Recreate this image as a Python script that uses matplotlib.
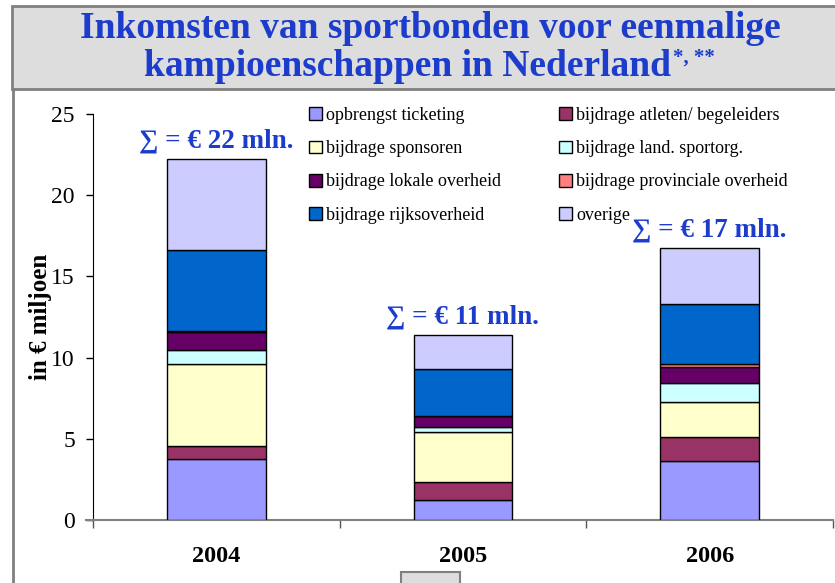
import numpy as np
import matplotlib.pyplot as plt
from matplotlib.patches import Rectangle, Patch
from matplotlib.lines import Line2D

plt.rcParams['font.family'] = ['Liberation Serif', 'DejaVu Serif']

# ── Data ──────────────────────────────────────────────────────────────────────
years = ["2004", "2005", "2006"]
categories = [
    "opbrengst ticketing",
    "bijdrage atleten/ begeleiders",
    "bijdrage sponsoren",
    "bijdrage land. sportorg.",
    "bijdrage lokale overheid",
    "bijdrage provinciale overheid",
    "bijdrage rijksoverheid",
    "overige",
]
ticketing   = [3.77, 1.21, 3.65]
atleten     = [0.78, 1.15, 1.44]
sponsoren   = [5.05, 3.06, 2.15]
land        = [0.86, 0.32, 1.17]
lokaal      = [1.13, 0.64, 1.02]
provinciaal = [0.05, 0.05, 0.15]
rijk        = [5.00, 2.85, 3.71]
overige     = [5.56, 2.11, 3.43]
totals_label = ["22", "11", "17"]

colors = ["#9999FF", "#993366", "#FFFFCC", "#CCFFFF",
          "#660066", "#FF8080", "#0066CC", "#CCCCFF"]
BLUE = "#1C3CCC"

series = [ticketing, atleten, sponsoren, land, lokaal, provinciaal, rijk, overige]

# ── Figure ────────────────────────────────────────────────────────────────────
W, H = 835, 583
fig = plt.figure(figsize=(W / 100, H / 100), dpi=100)

def fx(px):
    return px / W

def fy(py):
    return 1 - py / H

# title box and panel border
fig.patches.append(Rectangle((fx(12), fy(89)), fx(835) - fx(12) + 0.01, fy(6) - fy(89),
                             transform=fig.transFigure, facecolor="#DDDDDD",
                             edgecolor="#808080", linewidth=2, zorder=0))
fig.add_artist(Line2D([fx(13), fx(13)], [fy(89), 0], color="#808080", lw=2,
                      transform=fig.transFigure))
fig.patches.append(Rectangle((fx(401), fy(583) - 0.01), fx(59), fy(572) - fy(583) + 0.01,
                             transform=fig.transFigure, facecolor="#DDDDDD",
                             edgecolor="#808080", linewidth=1.5))

fig.text(fx(430), fy(29), "Inkomsten van sportbonden voor eenmalige",
         ha="center", va="center", fontsize=27, fontweight="bold", color=BLUE)
t2 = fig.text(fx(407), fy(67), "kampioenschappen in Nederland",
              ha="center", va="center", fontsize=27, fontweight="bold", color=BLUE)
fig.canvas.draw()
bb = t2.get_window_extent()
fig.text(bb.x1 / W + 0.003, fy(58), "*, **", ha="left", va="center",
         fontsize=15, fontweight="bold", color=BLUE)

# ── Axes ──────────────────────────────────────────────────────────────────────
ax = fig.add_axes([fx(93), fy(520), fx(833) - fx(93), fy(114) - fy(520)])
x = np.arange(len(years))
bottom = np.zeros(len(years))
handles = []
for vals, col, lab in zip(series, colors, categories):
    ax.bar(x, vals, width=0.4, bottom=bottom, color=col, edgecolor="black",
           linewidth=1.0, zorder=3)
    bottom += np.array(vals)
    handles.append(Patch(facecolor=col, edgecolor="black", linewidth=1.0, label=lab))

for xi, tot, lab in zip(x, bottom, totals_label):
    ax.annotate(f"\u2211 = \u20ac {lab} mln.", (xi, tot), xytext=(0, 4),
                textcoords="offset points", ha="center", va="bottom",
                fontsize=19.5, fontweight="bold", color=BLUE)

ax.set_xlim(-0.5, 2.5)
ax.set_ylim(0, 25)
ax.set_yticks(np.arange(0, 26, 5))
ax.tick_params(axis="y", labelsize=17, direction="out", length=5, width=1, pad=8)
ax.set_xticks([-0.5, 0.5, 1.5, 2.5])
ax.set_xticklabels([])
ax.tick_params(axis="x", which="major", direction="out", length=6, width=1,
               color="#555555")
ax.set_xticks(x, minor=True)
ax.set_xticklabels(years, minor=True, fontsize=17.5, fontweight="bold")
ax.tick_params(axis="x", which="minor", length=0, pad=19)
for s in ["top", "right"]:
    ax.spines[s].set_visible(False)
ax.spines["left"].set_color("black")
ax.spines["bottom"].set_color("#808080")
ax.spines["bottom"].set_linewidth(1.5)
fig.add_artist(Line2D([fx(86), fx(93)], [fy(520), fy(520)], color="#808080", lw=1.5,
                      transform=fig.transFigure))

fig.text(fx(40), fy(317), "in \u20ac miljoen", rotation=90, ha="center", va="center",
         fontsize=18, fontweight="bold")

order = [0, 2, 4, 6, 1, 3, 5, 7]
fig.legend([handles[i] for i in order], [categories[i] for i in order],
           ncol=2, loc="upper left", bbox_to_anchor=(fx(309), fy(107)),
           frameon=False, fontsize=13, handlelength=0.7, handleheight=0.7,
           handletextpad=0.25, labelspacing=0.9, columnspacing=3.2,
           borderpad=0, borderaxespad=0)

fig.savefig("out.png", dpi=100)
